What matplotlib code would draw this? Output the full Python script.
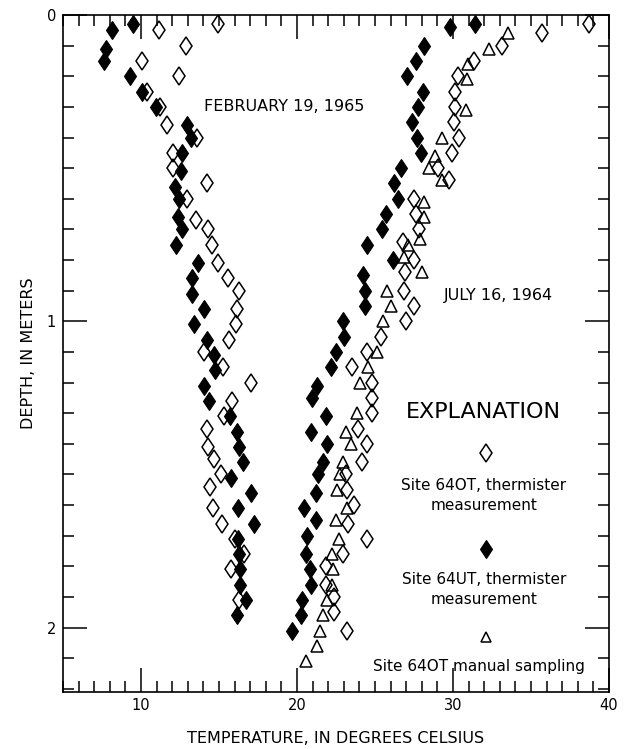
import matplotlib
matplotlib.use("Agg")
import matplotlib.pyplot as plt
from matplotlib.ticker import MultipleLocator

# ---- data: February 19, 1965 ----
feb_ut_temp = [9.47, 8.12, 7.74, 7.65, 9.29, 10.04, 10.94, 12.95, 13.2, 12.6,
               12.54, 12.2, 12.46, 12.4, 12.63, 12.27, 13.67, 13.25, 13.25, 14.04,
               13.42, 14.25, 14.7, 14.74, 14.04, 14.34, 15.71, 16.13, 16.28, 16.54,
               15.77, 17.04, 16.2, 17.26, 16.24, 16.28, 16.35, 16.35, 16.73, 16.17]
feb_ut_depth = [0.03, 0.05, 0.11, 0.15, 0.20, 0.25, 0.30, 0.36, 0.40, 0.45,
                0.51, 0.56, 0.60, 0.66, 0.70, 0.75, 0.81, 0.86, 0.91, 0.96,
                1.01, 1.06, 1.11, 1.16, 1.21, 1.26, 1.31, 1.36, 1.41, 1.46,
                1.51, 1.56, 1.61, 1.66, 1.71, 1.76, 1.81, 1.86, 1.91, 1.96]

feb_ot_temp = [14.94, 11.13, 12.88, 10.04, 12.44, 10.36, 11.22, 11.69, 13.57, 12.07,
               12.03, 14.21, 12.97, 13.5, 14.28, 14.57, 14.96, 15.6, 16.28, 16.13,
               16.07, 15.66, 14.04, 15.28, 17.03, 15.85, 15.32, 14.25, 14.29, 14.7,
               15.13, 14.42, 14.6, 15.21, 16.03, 16.62, 15.77, 16.3]
feb_ot_depth = [0.03, 0.05, 0.10, 0.15, 0.20, 0.25, 0.30, 0.36, 0.40, 0.45,
                0.50, 0.55, 0.60, 0.67, 0.70, 0.75, 0.81, 0.86, 0.90, 0.96,
                1.01, 1.06, 1.10, 1.15, 1.20, 1.26, 1.31, 1.35, 1.41, 1.45,
                1.50, 1.54, 1.61, 1.66, 1.71, 1.76, 1.81, 1.91]

# ---- data: July 16, 1964 ----
jul_ut_temp = [31.41, 29.8, 28.16, 27.6, 27.05, 28.08, 27.73, 27.37, 27.67, 27.93,
               26.65, 26.2, 26.45, 25.72, 25.45, 24.49, 26.13, 24.21, 24.38, 24.38,
               22.97, 23.01, 22.48, 22.16, 21.26, 20.94, 21.84, 20.88, 21.9, 21.69,
               21.33, 21.22, 20.47, 21.22, 20.62, 20.58, 20.83, 20.9, 20.34, 20.24,
               19.7]
jul_ut_depth = [0.03, 0.04, 0.10, 0.15, 0.20, 0.25, 0.30, 0.35, 0.40, 0.45,
                0.50, 0.55, 0.60, 0.65, 0.70, 0.75, 0.80, 0.85, 0.90, 0.95,
                1.00, 1.05, 1.10, 1.15, 1.21, 1.25, 1.31, 1.36, 1.40, 1.46,
                1.50, 1.56, 1.61, 1.65, 1.70, 1.76, 1.81, 1.86, 1.91, 1.96,
                2.01]

jul_ot_temp = [38.7, 35.69, 33.12, 31.35, 30.3, 30.13, 30.13, 30.08, 30.38, 29.96,
               29.02, 29.76, 27.52, 27.6, 27.82, 26.81, 27.5, 26.92, 26.86, 27.5,
               26.96, 25.37, 24.5, 23.54, 24.82, 24.78, 24.82, 23.89, 24.47, 24.19,
               23.14, 23.22, 23.67, 23.25, 24.47, 22.97, 21.84, 21.84, 22.37, 22.37,
               23.19]
jul_ot_depth = [0.03, 0.06, 0.10, 0.15, 0.20, 0.25, 0.30, 0.35, 0.40, 0.45,
                0.50, 0.54, 0.60, 0.65, 0.70, 0.74, 0.80, 0.84, 0.90, 0.95,
                1.00, 1.05, 1.10, 1.15, 1.20, 1.25, 1.30, 1.35, 1.40, 1.46,
                1.50, 1.55, 1.60, 1.66, 1.71, 1.76, 1.80, 1.86, 1.90, 1.95,
                2.01]

jul_manual_temp = [33.55, 32.33, 30.94, 30.88, 30.83, 29.31, 28.85, 28.46, 29.31, 28.16,
                   28.16, 27.88, 27.13, 26.86, 28.0, 25.74, 26.03, 25.53, 25.15, 24.57,
                   24.04, 23.87, 23.12, 23.44, 22.97, 22.76, 22.58, 23.22, 22.48, 22.69,
                   22.26, 22.29, 22.22, 21.9, 21.69, 21.47, 21.26, 20.56]
jul_manual_depth = [0.06, 0.11, 0.16, 0.21, 0.31, 0.40, 0.46, 0.50, 0.54, 0.61,
                    0.66, 0.73, 0.75, 0.79, 0.84, 0.90, 0.95, 1.00, 1.10, 1.15,
                    1.20, 1.30, 1.36, 1.40, 1.46, 1.50, 1.55, 1.61, 1.65, 1.71,
                    1.76, 1.81, 1.86, 1.91, 1.96, 2.01, 2.06, 2.11]

x_ticks = [10, 20, 30, 40]
y_ticks = [0, 1, 2]

plt.rcParams['font.family'] = ['DejaVu Sans']

fig = plt.figure(figsize=(6.26, 7.49), dpi=100)
ax = fig.add_axes([0.1006, 0.0761, 0.8722, 0.9039])

ms_d = 9.6
open_kw = dict(linestyle='none', marker='d', ms=ms_d, mfc='none', mec='black', mew=1.1)
fill_kw = dict(linestyle='none', marker='d', ms=ms_d, mfc='black', mec='black', mew=0.8)
tri_kw = dict(linestyle='none', marker='^', ms=8, mfc='none', mec='black', mew=1.1)

ax.plot(feb_ot_temp, feb_ot_depth, **open_kw)
ax.plot(feb_ut_temp, feb_ut_depth, **fill_kw)
ax.plot(jul_ot_temp, jul_ot_depth, **open_kw)
ax.plot(jul_ut_temp, jul_ut_depth, **fill_kw)
ax.plot(jul_manual_temp, jul_manual_depth, **tri_kw)

ax.set_xlim(5, 40)
ax.set_ylim(2.21, 0)
ax.set_xticks(x_ticks)
ax.set_yticks(y_ticks)
ax.xaxis.set_minor_locator(MultipleLocator(1))
ax.yaxis.set_minor_locator(MultipleLocator(0.1))
ax.tick_params(which='both', direction='in', top=True, right=True, width=1.1, colors='black')
ax.tick_params(which='major', length=17, labelsize=10.5)
ax.tick_params(which='minor', length=8)
ax.tick_params(axis='x', pad=4)
ax.tick_params(axis='y', pad=5)
for s in ax.spines.values():
    s.set_linewidth(1.2)

ax.set_xlabel('TEMPERATURE, IN DEGREES CELSIUS', fontsize=11.5, labelpad=13)
ax.set_ylabel('DEPTH, IN METERS', fontsize=11.5, labelpad=8)

ax.text(14.05, 0.30, 'FEBRUARY 19, 1965', fontsize=11.5, ha='left', va='center')
ax.text(29.4, 0.917, 'JULY 16, 1964', fontsize=11.5, ha='left', va='center')

# Explanation block
T = ax.transAxes
ax.text(0.770, 0.4136, 'EXPLANATION', transform=T, fontsize=16, ha='center', va='center')
ax.plot([0.775], [0.353], transform=T, clip_on=False, **open_kw)
ax.text(0.771, 0.290, 'Site 64OT, thermister\nmeasurement', transform=T, fontsize=11,
        ha='center', va='center', linespacing=1.45)
ax.plot([0.775], [0.211], transform=T, clip_on=False, **fill_kw)
ax.text(0.771, 0.1514, 'Site 64UT, thermister\nmeasurement', transform=T, fontsize=11,
        ha='center', va='center', linespacing=1.45)
ax.plot([0.775], [0.0812], transform=T, clip_on=False, linestyle='none', marker='^', ms=7,
        mfc='none', mec='black', mew=1.1)
ax.text(0.762, 0.038, 'Site 64OT manual sampling', transform=T, fontsize=11,
        ha='center', va='center')

fig.savefig('out.png', dpi=100)
